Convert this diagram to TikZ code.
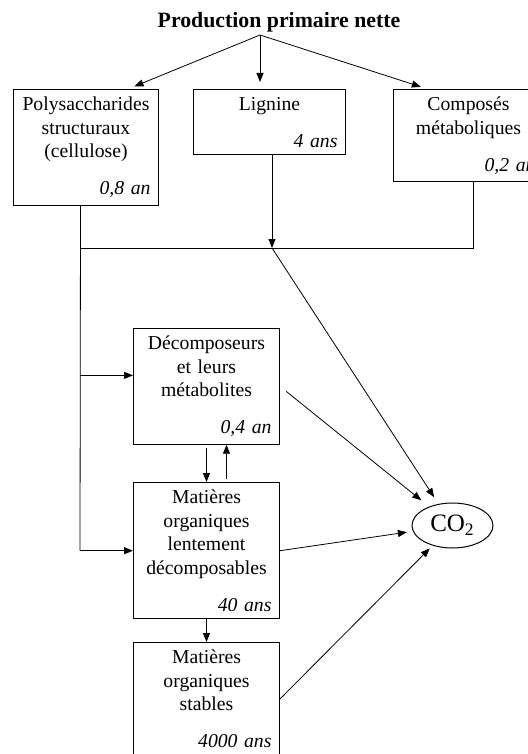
\documentclass[tikz,border=0pt]{standalone}
\usepackage{fontspec}
\setmainfont{Liberation Serif}
\usepackage{tikz}
\usetikzlibrary{arrows.meta, shapes.geometric, positioning}
\newcommand{\duree}[1]{\hskip 0pt plus 1fill\textit{#1}}
\tikzset{
  bac/.style={draw, line width=0.5pt, anchor=north west, align=center,
              inner xsep=4pt, inner ysep=3.75pt,
              font=\fontsize{9.85}{11.75}\selectfont},
  fleche/.style={-{Triangle[length=4.5pt,width=3.5pt]}, line width=0.4pt},
  trait/.style={line width=0.4pt},
}
\begin{document}
\begin{tikzpicture}[x=0.5pt, y=-0.5pt]
\useasboundingbox (0,0) rectangle (528,754);
%
\node[anchor=base, inner sep=0pt, font=\fontsize{10.9}{13}\selectfont\bfseries] (npp) at (279,28) {Production primaire nette};
\coordinate (src) at (260,35);
%
\node[bac, text width=64.5pt] (poly) at (13,89) {Polysaccharides\\structuraux\\(cellulose)\\[6.75pt]\duree{0,8 an}};
\node[bac, text width=68pt] (lig) at (193,89) {Lignine\\[6.75pt]\duree{4 ans}};
\node[bac, text width=67pt] (comp) at (393,89) {Composés\\métaboliques\\[6.75pt]\duree{0,2 an}};
%
\node[bac, text width=65pt] (dec) at (133,328) {Décomposeurs\\et leurs\\métabolites\\[6.75pt]\duree{0,4 an}};
\node[bac, text width=65pt] (lent) at (133,482) {Matières\\organiques\\lentement\\décomposables\\[6.75pt]\duree{40 ans}};
\node[bac, text width=65pt] (stab) at (133,642) {Matières\\organiques\\stables\\[6.75pt]\duree{4000 ans}};
%
\node[ellipse, draw, line width=0.5pt, minimum width=40.5pt, minimum height=22.5pt, inner sep=0pt,
      font=\fontsize{12.5}{14}\selectfont] (co2) at (452.5,525.5) {CO\textsubscript{2}};
%
\coordinate (trunk) at (80,248);
\coordinate (j) at (272,248);
\coordinate (decin) at ([yshift=5.5pt]dec.west);

\draw[fleche, shorten >=3.5pt] (src) -- ([xshift=21pt]poly.north);
\draw[fleche, shorten >=3.5pt] (src) -- (src |- lig.north);
\draw[fleche, shorten >=3.5pt] (src) -- ([xshift=-20.5pt]comp.north);
%
\draw[trait] ([xshift=-2.75pt]poly.south) -- (trunk |- lent.west);
\draw[trait] (trunk) -| ([xshift=2.5pt]comp.south);
\draw[fleche] (lig.south -| j) -- (j);
\draw[fleche] (trunk |- decin) -- (decin);
\draw[fleche] (trunk |- lent.west) -- (lent.west);
%
\draw[fleche, shorten <=1.5pt] (dec.south) -- (lent.north);
\draw[fleche, shorten <=1.5pt] ([xshift=10pt]lent.north) -- ([xshift=10pt]dec.south);
\draw[fleche] (lent) -- (stab);
%
\draw[fleche, shorten >=4pt] (j) -- (co2);
\draw[fleche, shorten <=4pt, shorten >=5pt] (dec.east) -- (co2);
\draw[fleche, shorten >=3pt] (lent.east) -- (co2);
\draw[fleche, shorten >=2pt] (stab.east) -- (co2);
\end{tikzpicture}
\end{document}
